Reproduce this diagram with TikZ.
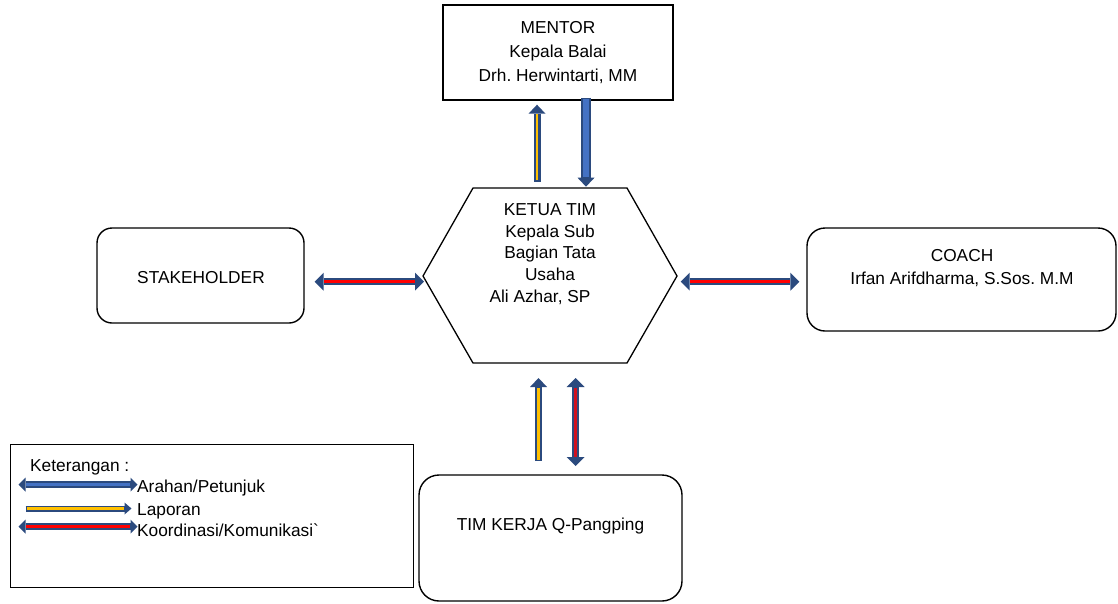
\documentclass[tikz,border=0pt]{standalone}
\usepackage{fontspec}
\setmainfont{Liberation Sans}[Ligatures=TeXOff]
\usetikzlibrary{arrows.meta}
\definecolor{arrnavy}{HTML}{2B4A7E}
\definecolor{arrblue}{HTML}{4472C4}
\definecolor{arryel}{HTML}{FFC000}
\definecolor{arrred}{HTML}{FF0000}
\definecolor{arrdred}{HTML}{D01020}
\frenchspacing
\begin{document}
\begin{tikzpicture}[x=1pt,y=-1pt,
  font=\fontsize{17.3}{22}\selectfont\frenchspacing,
  box/.style={draw=black,line width=1.4pt,inner sep=0pt},
  rbox/.style={box,rounded corners=#1},
  txt/.style={inner sep=0pt,align=center},
  lbl/.style={inner sep=0pt,anchor=base west},
  outer/.style={draw=arrnavy,line width=#1},
  dbltip/.style={arrows={Triangle[width=18pt,length=9pt,line width=0pt]-Triangle[width=18pt,length=9pt,line width=0pt]}},
  endtip/.style={arrows={-Triangle[width=17pt,length=9pt,line width=0pt]}},
  smdbl/.style={arrows={Triangle[width=14pt,length=7pt,line width=0pt]-Triangle[width=14pt,length=7pt,line width=0pt]}},
  smend/.style={arrows={-Triangle[width=12pt,length=7pt,line width=0pt]}},
  stripe/.style={line width=#1},
]
\useasboundingbox (0,0) rectangle (1118,603);

% boxes
\node[box,minimum width=230pt,minimum height=95pt,txt,font=\fontsize{17.3}{24.3}\selectfont\frenchspacing] (mentor) at (558,52.5)
  {MENTOR\\Kepala Balai\\Drh. Herwintarti, MM};
\node[rbox=15pt,minimum width=207pt,minimum height=95pt] (stake) at (200.5,275.5) {};
\node[txt] (staketxt) at (201,278) {STAKEHOLDER};
\node[rbox=18pt,minimum width=309pt,minimum height=103pt] (coach) at (961.5,279.5) {};
\node[txt,anchor=north,font=\fontsize{17.3}{23.4}\selectfont\frenchspacing] (coachtxt) at (962,249.3)
  {COACH\\Irfan Arifdharma, S.Sos. M.M};
\node[rbox=20pt,minimum width=263pt,minimum height=126pt] (tim) at (550.5,538) {};
\node[txt,anchor=base] (timtxt) at (550.5,530) {TIM KERJA Q-Pangping};
\node[draw=black,line width=1pt,inner sep=0pt,minimum width=403pt,minimum height=143pt] (legend) at (211.5,515.5) {};

% hexagon
\coordinate (hexW) at (423,276);
\coordinate (hexNW) at (473,188);
\coordinate (hexNE) at (627,188);
\coordinate (hexE) at (677,276);
\coordinate (hexSE) at (627,363);
\coordinate (hexSW) at (473,363);
\coordinate (hexN) at (550,188);
\coordinate (hexS) at (550,363);
\draw[line width=1.3pt,line join=miter] (hexW) -- (hexNW) -- (hexNE) -- (hexE) -- (hexSE) -- (hexSW) -- cycle;
\node[txt,anchor=north,font=\fontsize{17.3}{21.7}\selectfont\frenchspacing] (hex) at (550,203.3)
  {KETUA TIM\\Kepala Sub\\Bagian Tata\\Usaha\\Ali Azhar, SP\hspace*{20pt}};

% mentor arrows
\draw[outer=7pt,endtip] ([xshift=-13pt,yshift=6.3pt]hexN) -- ([xshift=-21pt,yshift=-4pt]mentor.south);
\draw[arryel,stripe=2.5pt,shorten <=1.5pt,shorten >=9.5pt] ([xshift=-13pt,yshift=6.3pt]hexN) -- ([xshift=-21pt,yshift=-4pt]mentor.south);

\draw[outer=10pt,endtip] ([xshift=28pt,yshift=3pt]mentor.south) -- ([xshift=36pt,yshift=1.3pt]hexN);
\draw[arrblue,stripe=6pt,shorten <=1.5pt,shorten >=9.5pt] ([xshift=28pt,yshift=3pt]mentor.south) -- ([xshift=36pt,yshift=1.3pt]hexN);

% side arrows
\draw[outer=7pt,dbltip] ([xshift=10pt,yshift=-6.2pt]stake.east) -- ([xshift=1pt,yshift=-5.7pt]hexW);
\draw[arrred,stripe=3.5pt,shorten <=9.5pt,shorten >=9.5pt] ([xshift=10pt,yshift=-6.2pt]stake.east) -- ([xshift=1pt,yshift=-5.7pt]hexW);

\draw[outer=7pt,dbltip] ([xshift=3.7pt,yshift=-5.7pt]hexE) -- ([xshift=-7pt,yshift=-2.2pt]coach.west);
\draw[arrred,stripe=3.5pt,shorten <=9.5pt,shorten >=9.5pt] ([xshift=3.7pt,yshift=-5.7pt]hexE) -- ([xshift=-7pt,yshift=-2.2pt]coach.west);

% bottom arrows
\draw[outer=7pt,endtip] ([xshift=-12pt,yshift=13.3pt]tim.north) -- ([xshift=-11.5pt,yshift=-15pt]hexS);
\draw[arryel,stripe=2.5pt,shorten <=1.5pt,shorten >=9.5pt] ([xshift=-12pt,yshift=13.3pt]tim.north) -- ([xshift=-11.5pt,yshift=-15pt]hexS);

\draw[outer=7.5pt,dbltip] ([xshift=25.2pt,yshift=8.3pt]tim.north) -- ([xshift=25.7pt,yshift=-15pt]hexS);
\draw[arrdred,stripe=3.5pt,shorten <=9.5pt,shorten >=9.5pt] ([xshift=25.2pt,yshift=8.3pt]tim.north) -- ([xshift=25.7pt,yshift=-15pt]hexS);

% legend
\node[lbl] (ket) at (30,471) {Keterangan :};
\node[lbl] (l1) at (137,492) {Arahan/Petunjuk};
\node[lbl] (l2) at (137,515) {Laporan};
\node[lbl] (l3) at (137,536) {Koordinasi/Komunikasi`};

\draw[outer=6.5pt,smdbl] ([xshift=9pt,yshift=-41pt]legend.north west) -- ([xshift=128pt,yshift=-41pt]legend.north west);
\draw[arrblue,stripe=3.5pt,shorten <=7.5pt,shorten >=7.5pt] ([xshift=9pt,yshift=-41pt]legend.north west) -- ([xshift=128pt,yshift=-41pt]legend.north west);

\draw[outer=6pt,smend] ([xshift=16pt,yshift=-65pt]legend.north west) -- ([xshift=122pt,yshift=-65pt]legend.north west);
\draw[arryel,stripe=2.2pt,shorten <=1.5pt,shorten >=7.5pt] ([xshift=16pt,yshift=-65pt]legend.north west) -- ([xshift=122pt,yshift=-65pt]legend.north west);

\draw[outer=6.5pt,smdbl] ([xshift=9pt,yshift=-83pt]legend.north west) -- ([xshift=128pt,yshift=-83pt]legend.north west);
\draw[arrred,stripe=3.5pt,shorten <=7.5pt,shorten >=7.5pt] ([xshift=9pt,yshift=-83pt]legend.north west) -- ([xshift=128pt,yshift=-83pt]legend.north west);
\end{tikzpicture}
\end{document}
